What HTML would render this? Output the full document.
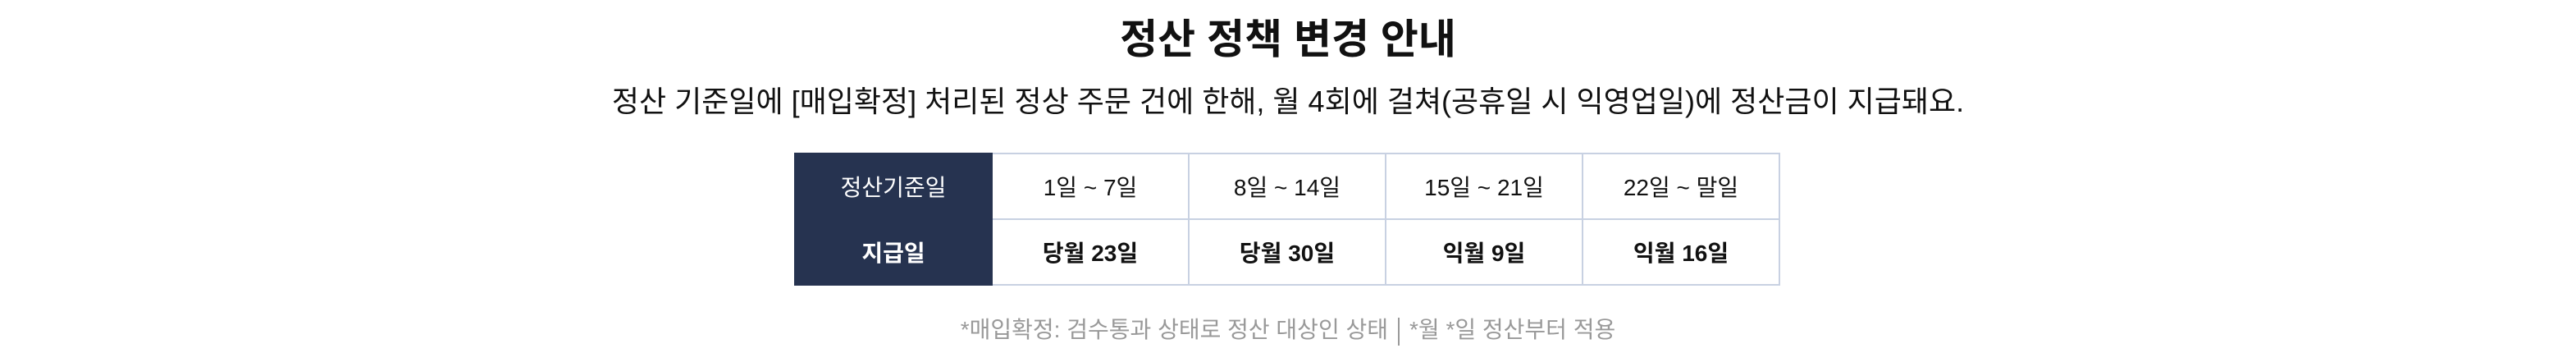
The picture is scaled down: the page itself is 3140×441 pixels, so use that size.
<!DOCTYPE html>
<html><head><meta charset="utf-8"><style>
html,body{margin:0;padding:0;background:#fff;}
body{width:3140px;height:441px;position:relative;overflow:hidden;font-family:"Liberation Sans","Noto Sans CJK KR",sans-serif;color:#111;}
.title{position:absolute;top:18px;left:0;width:3140px;text-align:center;font-size:50px;font-weight:bold;line-height:60px;}
.sub{position:absolute;top:100px;left:0;width:3140px;text-align:center;font-size:36px;line-height:48px;}
table{position:absolute;left:968px;top:186px;border-collapse:collapse;}
td{width:240px;height:80px;padding:0;text-align:center;font-size:28px;border:2px solid #c8d1e2;box-sizing:border-box;}
td.h{background:#263350;color:#fff;border-color:#263350;font-weight:normal;}
tr.b td{font-weight:bold;}
.foot{position:absolute;top:382px;left:0;width:3140px;text-align:center;font-size:28px;color:#999;line-height:40px;}
.sep{display:inline-block;width:2px;height:34px;background:#999;vertical-align:middle;margin:0 12px;}
</style></head><body>
<div class="title">정산 정책 변경 안내</div>
<div class="sub">정산 기준일에 [매입확정] 처리된 정상 주문 건에 한해, 월 4회에 걸쳐(공휴일 시 익영업일)에 정산금이 지급돼요.</div>
<table>
<tr><td class="h">정산기준일</td><td>1일 ~ 7일</td><td>8일 ~ 14일</td><td>15일 ~ 21일</td><td>22일 ~ 말일</td></tr>
<tr class="b"><td class="h">지급일</td><td>당월 23일</td><td>당월 30일</td><td>익월 9일</td><td>익월 16일</td></tr>
</table>
<div class="foot">*매입확정: 검수통과 상태로 정산 대상인 상태<span class="sep"></span>*월 *일 정산부터 적용</div>
</body></html>
